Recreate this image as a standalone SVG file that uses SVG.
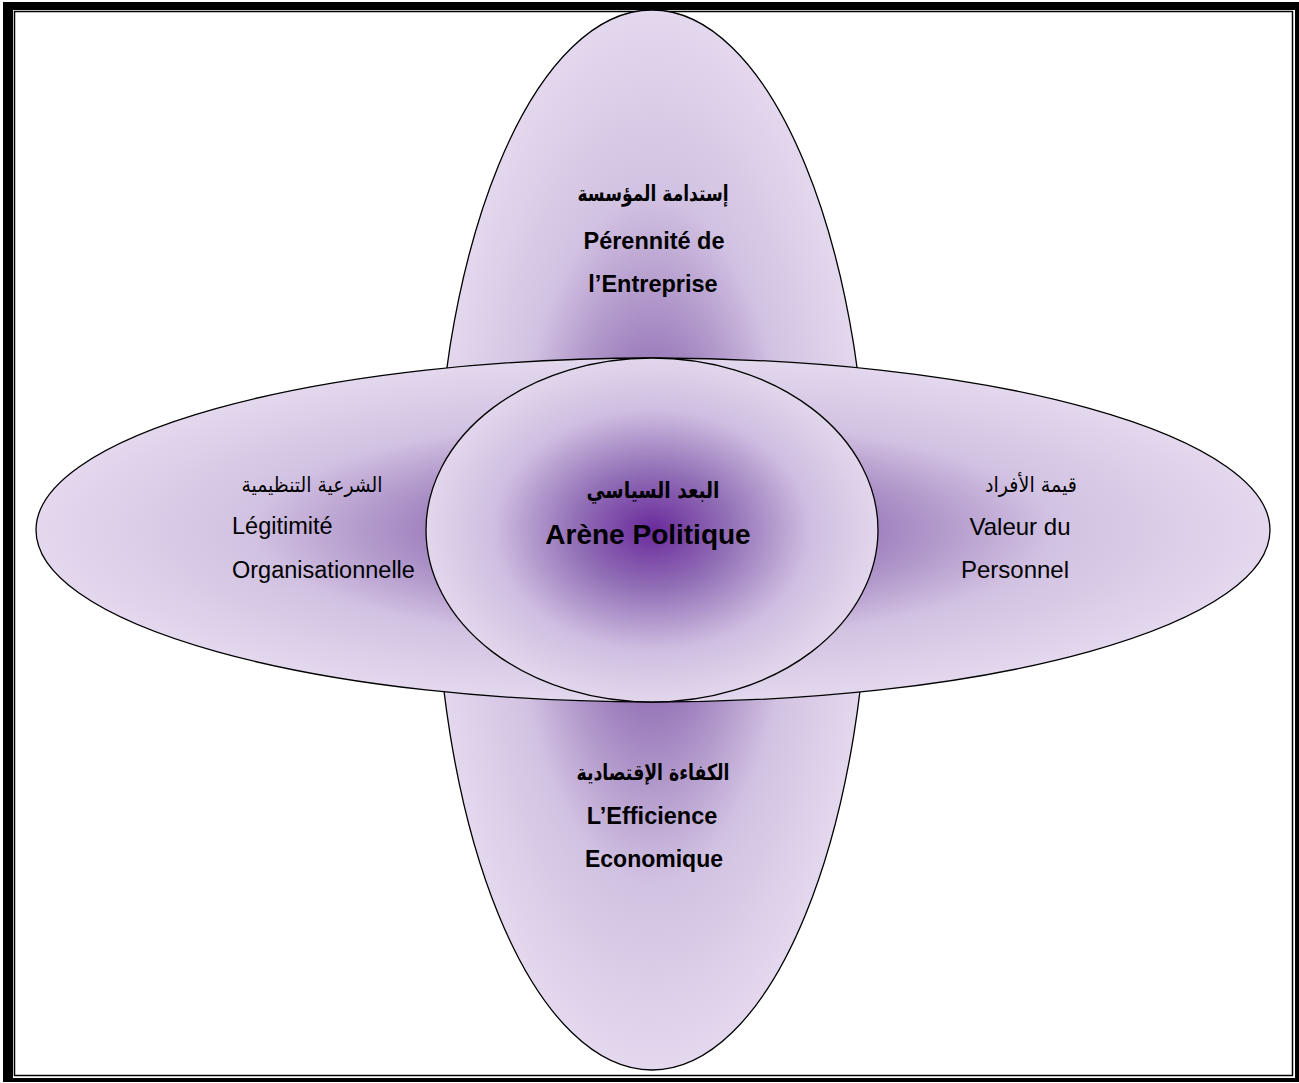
<svg xmlns="http://www.w3.org/2000/svg" width="1299" height="1083" viewBox="0 0 1299 1083">
<defs>
<radialGradient id="gOuter" cx="0.5" cy="0.5" r="0.5">
<stop offset="0" stop-color="#7a48ab"/>
<stop offset="0.32" stop-color="#9a7aba"/>
<stop offset="0.65" stop-color="#d2c2e2"/>
<stop offset="1" stop-color="#e3d8ee"/>
</radialGradient>
<radialGradient id="gCenter" cx="0.5" cy="0.5" r="0.5">
<stop offset="0" stop-color="#6a2a9c"/>
<stop offset="0.35" stop-color="#9371b7"/>
<stop offset="0.7" stop-color="#cfbee1"/>
<stop offset="1" stop-color="#e2d6ec"/>
</radialGradient>
</defs>
<style>
.shape{stroke:#000;stroke-width:1.3}
.t{font-family:"Liberation Sans","DejaVu Sans",Arial,sans-serif;fill:#000}
.b{font-weight:bold}
.ar{font-family:"DejaVu Sans","Liberation Sans",sans-serif}
</style>
<g id="frame">
<rect x="3" y="2" width="1296" height="1080" fill="#000"/>
<rect x="13" y="10" width="1282" height="1068" fill="#fff"/>
<rect x="14.5" y="11.5" width="1278" height="1064" fill="none" stroke="#000" stroke-width="1.5"/>
</g>
<g id="connectors"></g>
<g id="node-top-bottom">
<ellipse class="shape" cx="652" cy="540" rx="217" ry="530" fill="url(#gOuter)"/>
</g>
<g id="node-left-right">
<ellipse class="shape" cx="653" cy="530" rx="617" ry="172" fill="url(#gOuter)"/>
</g>
<g id="node-center">
<ellipse class="shape" cx="652" cy="530" rx="226" ry="172" fill="url(#gCenter)"/>
<text class="t b ar" x="653" y="498" font-size="23" text-anchor="middle" textLength="133" lengthAdjust="spacingAndGlyphs">البعد السياسي</text>
<text class="t b" x="648" y="544" font-size="28" text-anchor="middle">Arène Politique</text>
</g>
<g id="label-top">
<text class="t b ar" x="653" y="201" font-size="22" text-anchor="middle" textLength="151" lengthAdjust="spacingAndGlyphs">إستدامة المؤسسة</text>
<text class="t b" x="654" y="249" font-size="23.5" text-anchor="middle">Pérennité de</text>
<text class="t b" x="653" y="292" font-size="23.5" text-anchor="middle">l’Entreprise</text>
</g>
<g id="label-left">
<text class="t ar" x="312" y="492" font-size="21" text-anchor="middle" textLength="141" lengthAdjust="spacingAndGlyphs">الشرعية التنظيمية</text>
<text class="t" x="232" y="534" font-size="23.5">Légitimité</text>
<text class="t" x="232" y="578" font-size="23.5">Organisationnelle</text>
</g>
<g id="label-right">
<text class="t ar" x="1031" y="492" font-size="21" text-anchor="middle" textLength="92" lengthAdjust="spacingAndGlyphs">قيمة الأفراد</text>
<text class="t" x="1020" y="535" font-size="24" text-anchor="middle">Valeur du</text>
<text class="t" x="1015" y="578" font-size="24" text-anchor="middle">Personnel</text>
</g>
<g id="label-bottom">
<text class="t b ar" x="653" y="780" font-size="22" text-anchor="middle" textLength="153" lengthAdjust="spacingAndGlyphs">الكفاءة الإقتصادية</text>
<text class="t b" x="652" y="824" font-size="23.5" text-anchor="middle">L’Efficience</text>
<text class="t b" x="654" y="867" font-size="23" text-anchor="middle">Economique</text>
</g>
</svg>
